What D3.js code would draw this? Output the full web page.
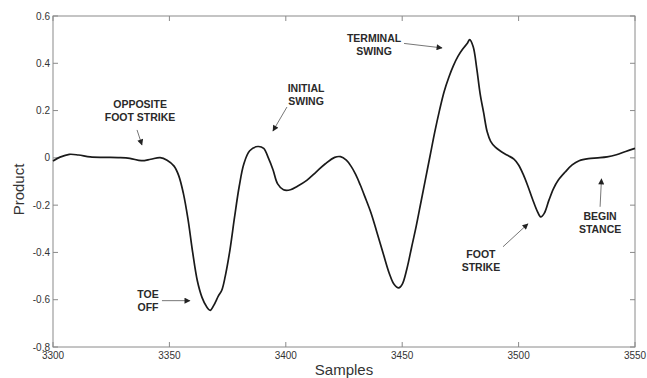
<!DOCTYPE html>
<html>
<head>
<meta charset="utf-8">
<script src="https://cdn.jsdelivr.net/npm/d3@7"></script>
<style>
  html, body { margin: 0; padding: 0; background: #fff; }
  svg { display: block; font-family: "Liberation Sans", Arial, sans-serif; }
</style>
</head>
<body>
<svg id="chart" width="647" height="378"></svg>
<script>
// Gait signal: product value per sample index
const samples = [
  3300, 3303, 3307, 3311, 3316, 3322, 3328, 3333, 3338, 3342, 3346, 3349, 3352, 3354, 3356, 3358,
  3360, 3362, 3364, 3366, 3367.5, 3369, 3371, 3372.5, 3374, 3376, 3378, 3380, 3382, 3384.5, 3388,
  3390.5, 3392.5, 3394.5, 3396.5, 3399, 3402, 3405, 3409, 3413, 3417, 3421, 3423.5, 3426, 3428,
  3430, 3432, 3434, 3436.5, 3439, 3442, 3444.5, 3446.5, 3448.5, 3450, 3452, 3454, 3456, 3458, 3460,
  3462, 3464, 3466, 3468, 3470, 3472, 3474, 3476, 3478, 3479, 3480.5, 3482, 3483.5, 3485, 3486.5,
  3488, 3490, 3492, 3495, 3498, 3500, 3502, 3504, 3506, 3508, 3509.5, 3511, 3513, 3515, 3517, 3520,
  3523, 3526, 3530, 3534, 3538, 3542, 3546, 3550
];
const product = [
  -0.013, 0.003, 0.015, 0.012, 0.004, 0.002, 0.001, -0.002, -0.012, -0.006, 0.001, -0.01, -0.035, -0.075, -0.15, -0.26,
  -0.40, -0.52, -0.59, -0.63, -0.645, -0.625, -0.585, -0.56, -0.50, -0.39, -0.25, -0.12, -0.025, 0.03, 0.048,
  0.04, 0.0, -0.05, -0.11, -0.135, -0.135, -0.12, -0.095, -0.06, -0.025, 0.002, 0.005, -0.01, -0.035,
  -0.07, -0.115, -0.165, -0.23, -0.31, -0.41, -0.49, -0.535, -0.55, -0.535, -0.47, -0.38, -0.29, -0.19, -0.09,
  0.01, 0.11, 0.2, 0.28, 0.34, 0.39, 0.43, 0.46, 0.485, 0.5, 0.47, 0.38, 0.27, 0.19, 0.11,
  0.07, 0.045, 0.03, 0.012, -0.005, -0.03, -0.07, -0.12, -0.175, -0.225, -0.25, -0.235, -0.18, -0.13, -0.095, -0.06,
  -0.03, -0.012, -0.003, 0.0, 0.004, 0.013, 0.027, 0.04
];

const xTicks = [3300, 3350, 3400, 3450, 3500, 3550];
const yTicks = [-0.8, -0.6, -0.4, -0.2, 0, 0.2, 0.4, 0.6];

// Gait-phase annotations (label lines, label anchor, arrow start -> arrow end), in data units
const phaseLabels = [
  ["OPPOSITE", "FOOT STRIKE"],
  ["TOE", "OFF"],
  ["INITIAL", "SWING"],
  ["TERMINAL", "SWING"],
  ["FOOT", "STRIKE"],
  ["BEGIN", "STANCE"]
];
const labelAt = [
  [3337.4, 0.228], [3340.8, -0.575], [3408.7, 0.296],
  [3437.9, 0.509], [3483.8, -0.406], [3535.0, -0.245]
];
const arrowFrom = [
  [3336.1, 0.118], [3346.8, -0.604], [3400.5, 0.215],
  [3450.8, 0.484], [3493.3, -0.376], [3535.0, -0.207]
];
const arrowTo = [
  [3338.2, 0.055], [3358.8, -0.604], [3394.5, 0.114],
  [3467.1, 0.465], [3504.0, -0.279], [3535.6, -0.089]
];

const svg = d3.select("#chart");
const plotLeft = 53, plotRight = 635, plotTop = 16, plotBottom = 347;

const x = d3.scaleLinear().domain([3300, 3550]).range([plotLeft, plotRight]);
const y = d3.scaleLinear().domain([-0.8, 0.6]).range([plotBottom, plotTop]);

const frameColor = "#8a8a8a";
const textColor = "#333";
const tickLen = 5;
const fmtY = d => (d === 0 ? "0" : d.toFixed(1));

// plot frame
svg.append("rect")
  .attr("x", plotLeft).attr("y", plotTop)
  .attr("width", plotRight - plotLeft).attr("height", plotBottom - plotTop)
  .attr("fill", "none").attr("stroke", frameColor).attr("stroke-width", 1);

// inward ticks on all four sides
const ax = svg.append("g").attr("stroke", frameColor).attr("stroke-width", 1);
xTicks.forEach(t => {
  ax.append("line").attr("x1", x(t)).attr("x2", x(t)).attr("y1", plotBottom).attr("y2", plotBottom - tickLen);
  ax.append("line").attr("x1", x(t)).attr("x2", x(t)).attr("y1", plotTop).attr("y2", plotTop + tickLen);
});
yTicks.forEach(t => {
  ax.append("line").attr("x1", plotLeft).attr("x2", plotLeft + tickLen).attr("y1", y(t)).attr("y2", y(t));
  ax.append("line").attr("x1", plotRight).attr("x2", plotRight - tickLen).attr("y1", y(t)).attr("y2", y(t));
});

// tick labels
svg.append("g").selectAll("text").data(xTicks).join("text")
  .attr("x", d => x(d)).attr("y", plotBottom + 12)
  .attr("text-anchor", "middle").attr("font-size", 10).attr("fill", textColor)
  .text(d => d);
svg.append("g").selectAll("text").data(yTicks).join("text")
  .attr("x", plotLeft - 3).attr("y", d => y(d) + 3.5)
  .attr("text-anchor", "end").attr("font-size", 10).attr("fill", textColor)
  .text(fmtY);

// axis titles
svg.append("text")
  .attr("x", (plotLeft + plotRight) / 2).attr("y", 375)
  .attr("text-anchor", "middle").attr("font-size", 15).attr("fill", textColor)
  .text("Samples");
svg.append("text")
  .attr("transform", `translate(24,${(plotTop + plotBottom) / 2 + 8}) rotate(-90)`)
  .attr("text-anchor", "middle").attr("font-size", 15).attr("fill", textColor)
  .text("Product");

// signal trace
const pts = samples.map((s, i) => [s, product[i]]);
const line = d3.line().x(d => x(d[0])).y(d => y(d[1])).curve(d3.curveCatmullRom.alpha(0.5));
svg.append("path")
  .datum(pts)
  .attr("d", line)
  .attr("fill", "none").attr("stroke", "#1a1a1a").attr("stroke-width", 1.7)
  .attr("stroke-linejoin", "round");

// arrowhead marker
svg.append("defs").append("marker")
  .attr("id", "head").attr("viewBox", "0 0 10 10")
  .attr("refX", 9).attr("refY", 5)
  .attr("markerWidth", 8).attr("markerHeight", 6)
  .attr("markerUnits", "userSpaceOnUse")
  .attr("orient", "auto")
  .append("path").attr("d", "M0,0 L10,5 L0,10 Z").attr("fill", "#222");

// annotations
const ann = svg.append("g");
phaseLabels.forEach((lines, i) => {
  const [ls, lv] = labelAt[i];
  lines.forEach((t, k) => {
    ann.append("text")
      .attr("x", x(ls)).attr("y", y(lv) + 4 + k * 13.5)
      .attr("text-anchor", "middle").attr("font-size", 10.5).attr("font-weight", "bold")
      .attr("fill", "#2a2a2a")
      .text(t);
  });
  ann.append("line")
    .attr("x1", x(arrowFrom[i][0])).attr("y1", y(arrowFrom[i][1]))
    .attr("x2", x(arrowTo[i][0])).attr("y2", y(arrowTo[i][1]))
    .attr("stroke", "#777").attr("stroke-width", 1)
    .attr("marker-end", "url(#head)");
});
</script>
</body>
</html>
